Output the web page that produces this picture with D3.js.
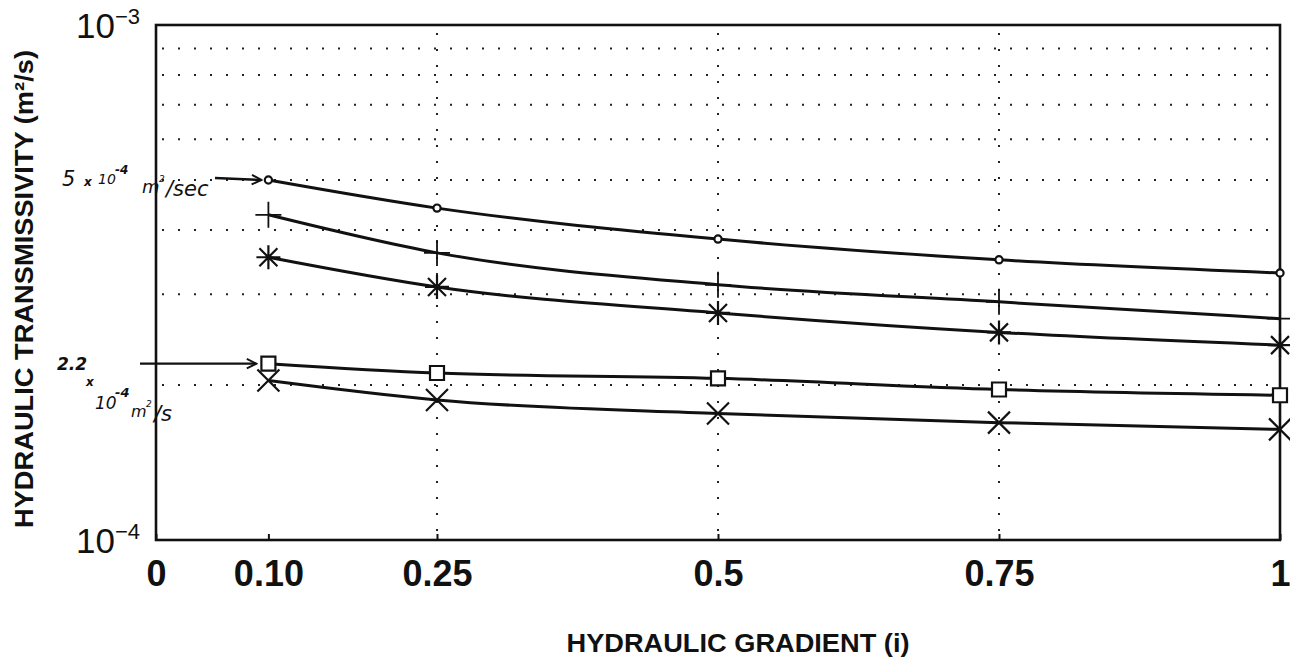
<!DOCTYPE html>
<html>
<head>
<meta charset="utf-8">
<script src="https://cdn.jsdelivr.net/npm/d3@7"></script>
<style>
  html, body { margin: 0; padding: 0; background: #ffffff; }
  svg { display: block; }
</style>
</head>
<body>
<svg id="chart" width="1290" height="660"></svg>
<script>
// Hydraulic gradient (x) values where transmissivity was measured
const gradients = [0.10, 0.25, 0.5, 0.75, 1];

// Transmissivity series (m^2/s), one per specimen, in order of gradients
const seriesCircle   = [5.0e-4, 4.41e-4, 3.84e-4, 3.50e-4, 3.30e-4];
const seriesPlus     = [4.28e-4, 3.61e-4, 3.13e-4, 2.90e-4, 2.69e-4];
const seriesStar     = [3.54e-4, 3.10e-4, 2.76e-4, 2.53e-4, 2.39e-4];
const seriesSquare   = [2.2e-4, 2.11e-4, 2.06e-4, 1.96e-4, 1.91e-4];
const seriesCross    = [2.04e-4, 1.87e-4, 1.76e-4, 1.69e-4, 1.64e-4];

// Axis ticks
const xTickValues = [0, 0.10, 0.25, 0.5, 0.75, 1];
const xTickLabels = ["0", "0.10", "0.25", "0.5", "0.75", "1"];
const xGridValues = [0.25, 0.5, 0.75];
const yTickValues = [1e-4, 1e-3];
const yTickExponents = ["\u22124", "\u22123"];
const yGridValues = [2e-4, 3e-4, 4e-4, 5e-4, 6e-4, 7e-4, 8e-4, 9e-4];

const svg = d3.select("#chart");
const W = 1290, H = 660;
const margin = { left: 156, right: 10, top: 25, bottom: 120 };
const plotW = W - margin.left - margin.right;
const plotH = H - margin.top - margin.bottom;

const x = d3.scaleLinear().domain([0, 1]).range([margin.left, margin.left + plotW]);
const y = d3.scaleLog().domain([1e-4, 1e-3]).range([margin.top + plotH, margin.top]);

svg.append("rect").attr("width", W).attr("height", H).attr("fill", "#ffffff");

// Dotted grid
const grid = svg.append("g").attr("stroke", "#222").attr("stroke-width", 2)
  .attr("stroke-dasharray", "2 14").attr("fill", "none");
grid.selectAll("line.h").data(yGridValues).join("line").attr("class", "h")
  .attr("x1", x(0) + 6).attr("x2", x(1))
  .attr("y1", d => y(d)).attr("y2", d => y(d));
grid.selectAll("line.v").data(xGridValues).join("line").attr("class", "v")
  .attr("x1", d => x(d)).attr("x2", d => x(d))
  .attr("y1", y(1e-3) + 8).attr("y2", y(1e-4));

// Bottom axis with inward ticks
const xAxis = d3.axisBottom(x)
  .tickValues(xTickValues)
  .tickFormat((d, i) => xTickLabels[i])
  .tickSizeInner(-6).tickSizeOuter(0).tickPadding(20);
const gx = svg.append("g").attr("transform", `translate(0,${y(1e-4)})`).call(xAxis);
gx.select(".domain").remove();
gx.selectAll(".tick line").attr("stroke", "#111").attr("stroke-width", 2);
gx.selectAll(".tick text")
  .attr("fill", "#111")
  .style("font-family", "'Liberation Sans', Arial, sans-serif")
  .style("font-size", "36px").style("font-weight", "bold");

// Left axis: powers of ten
const yAxis = d3.axisLeft(y).tickValues(yTickValues).tickSize(0).tickFormat(() => "");
const gy = svg.append("g").attr("transform", `translate(${x(0)},0)`).call(yAxis);
gy.select(".domain").remove();
gy.selectAll(".tick").each(function (d, i) {
  const t = d3.select(this).append("text")
    .attr("x", -16).attr("y", 12)
    .attr("text-anchor", "end").attr("fill", "#111")
    .style("font-family", "'Liberation Sans', Arial, sans-serif");
  t.append("tspan").style("font-size", "35px").text("10");
  t.append("tspan").attr("dy", -14).style("font-size", "22px").text(yTickExponents[i]);
});

// Plot frame
svg.append("rect")
  .attr("x", x(0)).attr("y", y(1e-3))
  .attr("width", x(1) - x(0)).attr("height", y(1e-4) - y(1e-3))
  .attr("fill", "none").attr("stroke", "#111").attr("stroke-width", 2.6);

// Series lines and markers
const seriesList = [
  { values: seriesCircle, marker: "circle" },
  { values: seriesPlus, marker: "plus" },
  { values: seriesStar, marker: "star" },
  { values: seriesSquare, marker: "square" },
  { values: seriesCross, marker: "cross" }
];

const line = d3.line()
  .x(d => x(d[0])).y(d => y(d[1]))
  .curve(d3.curveMonotoneX);

const markerPath = {
  circle: () => d3.symbol(d3.symbolCircle, Math.PI * 3.6 * 3.6)(),
  square: () => "M-7,-7H7V7H-7Z",
  plus:   () => "M-13,0H13M0,-13V13",
  cross:  () => "M-11,-11L11,11M-11,11L11,-11",
  star:   () => "M-12,0H12M0,-12V12M-9,-9L9,9M-9,9L9,-9"
};

seriesList.forEach(s => {
  const pts = gradients.map((g, i) => [g, s.values[i]]);
  svg.append("path").datum(pts)
    .attr("d", line)
    .attr("fill", "none").attr("stroke", "#111").attr("stroke-width", 3)
    .attr("stroke-linejoin", "round");
  const filled = s.marker === "circle" || s.marker === "square";
  svg.append("g").selectAll("path").data(pts).join("path")
    .attr("transform", d => `translate(${x(d[0])},${y(d[1])})`)
    .attr("d", markerPath[s.marker]())
    .attr("fill", filled ? "#fff" : "none")
    .attr("stroke", "#111")
    .attr("stroke-width", s.marker === "plus" ? 1.8 : 2.2);
});

// Axis titles
svg.append("text")
  .attr("x", 738).attr("y", 652).attr("text-anchor", "middle")
  .attr("textLength", 343).attr("lengthAdjust", "spacingAndGlyphs")
  .attr("fill", "#111")
  .style("font-family", "'Liberation Sans', Arial, sans-serif")
  .style("font-size", "26px").style("font-weight", "bold")
  .text("HYDRAULIC GRADIENT (i)");

svg.append("text")
  .attr("transform", "translate(33,289) rotate(-90)")
  .attr("text-anchor", "middle")
  .attr("textLength", 478).attr("lengthAdjust", "spacingAndGlyphs")
  .attr("fill", "#111")
  .style("font-family", "'Liberation Sans', Arial, sans-serif")
  .style("font-size", "26px").style("font-weight", "bold")
  .text("HYDRAULIC TRANSMISSIVITY (m\u00B2/s)");

// Handwritten notes pointing at the starting values
const noteFont = "'DejaVu Sans', sans-serif";
const defs = svg.append("defs");
defs.append("marker").attr("id", "head")
  .attr("viewBox", "0 0 10 10").attr("refX", 9).attr("refY", 5)
  .attr("markerWidth", 5).attr("markerHeight", 5).attr("orient", "auto")
  .append("path").attr("d", "M1,1L9,5L1,9").attr("fill", "none")
  .attr("stroke", "#111").attr("stroke-width", 1.6);

function note(xPos, yPos, size, str, opts = {}) {
  return svg.append("text").attr("x", xPos).attr("y", yPos)
    .attr("fill", "#111").style("font-family", noteFont)
    .style("font-style", opts.italic === false ? "normal" : "italic")
    .style("font-weight", opts.bold ? "bold" : "normal")
    .style("font-size", size + "px").text(str);
}

const y1 = y(seriesCircle[0]);
svg.append("line").attr("x1", 215).attr("x2", x(gradients[0]) - 7)
  .attr("y1", y1 - 2).attr("y2", y1)
  .attr("stroke", "#111").attr("stroke-width", 2.4).attr("marker-end", "url(#head)");
note(62, y1 + 6, 21, "5");
note(84, y1 + 6, 12, "x", { bold: true });
note(98, y1 + 4, 14, "10");
note(115, y1 - 6, 12, "-4", { bold: true });
note(142, y1 + 13, 18, "m");
note(159, y1 + 2, 9, "2");
note(166, y1 + 16, 21, "/sec");

const y2 = y(seriesSquare[0]);
svg.append("line").attr("x1", 140).attr("x2", x(gradients[0]) - 12)
  .attr("y1", y2).attr("y2", y2)
  .attr("stroke", "#111").attr("stroke-width", 2.4).attr("marker-end", "url(#head)");
note(57, y2 + 6, 17, "2.2", { bold: true });
note(86, y2 + 22, 12, "x", { bold: true });
note(95, y2 + 45, 17, "10");
note(115, y2 + 33, 13, "-4", { bold: true });
note(131, y2 + 53, 16, "m");
note(146, y2 + 43, 9, "2");
note(154, y2 + 57, 21, "/s");
</script>
</body>
</html>
